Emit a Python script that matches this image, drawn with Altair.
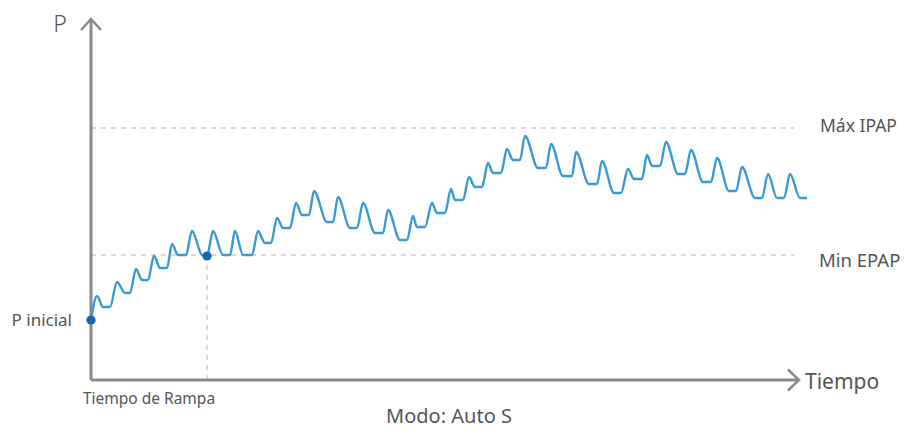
import altair as alt
import pandas as pd

# Pressure waveform key points (time units, pressure units)
wave_t = [0.0, 0.6, 1.2, 1.9, 2.6, 3.4, 3.9, 4.5, 5.1, 5.7, 6.3, 6.9, 7.6, 8.1, 8.7, 9.5,
          10.1, 11.1, 11.6, 12.2, 13.2, 13.9, 14.4, 15.2, 16.1, 16.7, 17.4, 18.0, 18.6, 19.2, 19.9,
          20.5, 21.1, 21.8, 22.3, 23.6, 24.2, 24.7, 25.9, 26.6, 27.2, 28.4, 29.2, 29.7, 30.9, 31.6,
          32.2, 32.6, 33.4, 34.1, 34.6, 35.4, 36.0, 36.4, 37.2, 37.8, 38.4, 39.1, 39.7, 40.2, 41.0,
          41.6, 42.2, 42.9, 43.4, 44.7, 45.5, 46.0, 47.2, 48.1, 48.5, 49.8, 50.6, 51.1, 52.3, 53.0,
          53.7, 54.3, 55.1, 55.6, 56.1, 56.9, 57.5, 58.7, 59.4, 60.0, 61.2, 62.0, 62.6, 63.8, 64.5,
          65.1, 66.4, 67.1, 67.7, 68.6, 69.3, 69.9, 70.9, 71.6]
wave_p = [6.0, 8.4, 7.3, 7.3, 9.8, 8.7, 8.7, 11.1, 10.0, 10.0, 12.4, 11.2, 11.2, 13.6, 12.5, 12.5,
          14.9, 12.5, 12.4, 14.9, 12.5, 12.5, 14.9, 12.5, 12.5, 14.9, 13.7, 13.7, 16.2, 15.2, 15.2,
          17.7, 16.5, 16.5, 18.9, 15.8, 15.8, 18.3, 15.2, 15.2, 17.7, 14.7, 14.7, 17.0, 14.0, 14.0,
          16.4, 15.3, 15.3, 17.7, 16.7, 16.7, 19.1, 18.0, 18.0, 20.3, 19.3, 19.3, 21.7, 20.7, 20.7,
          23.1, 22.0, 22.0, 24.4, 21.2, 21.2, 23.6, 20.4, 20.4, 22.8, 19.6, 19.6, 21.9, 18.7, 18.7,
          21.1, 20.1, 20.1, 22.5, 21.4, 21.4, 23.8, 20.6, 20.6, 23.0, 19.8, 19.8, 22.2, 18.9, 18.9,
          21.3, 18.2, 18.2, 20.6, 18.2, 18.2, 20.6, 18.2, 18.2]

# Reference levels
level_names = ["Máx IPAP", "Min EPAP"]
level_values = [25.2, 12.5]
level_end_t = 70.3

# Key points
p_inicial = 6.0
rampa_t = 11.6
rampa_p = 12.4

# Axis extents
t_axis_end = 70.8
p_axis_end = 36.1

T_DOMAIN = [-8.3, 80.9]
P_DOMAIN = [-4.9, 37.2]

xs = alt.Scale(domain=T_DOMAIN, nice=False, zero=False)
ys = alt.Scale(domain=P_DOMAIN, nice=False, zero=False)
X = lambda f: alt.X(f, type="quantitative", scale=xs, axis=None)
Y = lambda f: alt.Y(f, type="quantitative", scale=ys, axis=None)

FONT = "Noto Sans"
TXT = "#555555"
AXC = "#8a8a8a"

wave_df = pd.DataFrame({"t": wave_t, "p": wave_p})
levels_df = pd.DataFrame({"name": level_names, "p": level_values,
                          "t0": [0.0, 0.0], "t1": [level_end_t, level_end_t]})

# dashed level lines
levels = alt.Chart(levels_df).mark_rule(color="#b3b3b3", strokeWidth=1, strokeDash=[5, 5]).encode(
    x=X("t0"), x2="t1", y=Y("p"))

# vertical dashed rampa line
rampa_df = pd.DataFrame({"t": [rampa_t], "p0": [0.0], "p1": [rampa_p]})
rampa_line = alt.Chart(rampa_df).mark_rule(color="#b3b3b3", strokeWidth=1, strokeDash=[5, 5]).encode(
    x=X("t"), y=Y("p0"), y2="p1")

# axes lines
xaxis_df = pd.DataFrame({"t0": [0.0], "t1": [t_axis_end], "p": [0.0]})
yaxis_df = pd.DataFrame({"t": [0.0], "p0": [0.0], "p1": [p_axis_end]})
xaxis = alt.Chart(xaxis_df).mark_rule(color=AXC, strokeWidth=3).encode(x=X("t0"), x2="t1", y=Y("p"))
yaxis = alt.Chart(yaxis_df).mark_rule(color=AXC, strokeWidth=3).encode(x=X("t"), y=Y("p0"), y2="p1")

xarrow = alt.Chart(pd.DataFrame({"t": [t_axis_end], "p": [0.0]})).mark_point(
    shape="M-1.05,-1L0,0L-1.05,1", filled=False, stroke=AXC, strokeWidth=2.5, size=441, opacity=1
).encode(x=X("t"), y=Y("p"))
yarrow = alt.Chart(pd.DataFrame({"t": [0.0], "p": [p_axis_end]})).mark_point(
    shape="M-1,1.1L0,0L1,1.1", filled=False, stroke=AXC, strokeWidth=2.5, size=400, opacity=1
).encode(x=X("t"), y=Y("p"))

wave = alt.Chart(wave_df).mark_line(color="#3a9ad6", strokeWidth=2.4, interpolate="monotone").encode(
    x=X("t"), y=Y("p"))

dots_df = pd.DataFrame({"t": [0.0, rampa_t], "p": [p_inicial, rampa_p]})
dots = alt.Chart(dots_df).mark_point(filled=True, color="#1565ad", size=85, opacity=1).encode(
    x=X("t"), y=Y("p"))

# labels tied to data
lab_df = pd.DataFrame({"text": level_names, "t": [72.9, 72.8], "p": [24.8, 11.3], "size": [17.5, 18.5]})
level_labels = alt.Chart(lab_df).mark_text(align="left", baseline="alphabetic", font=FONT,
                                           color=TXT).encode(
    x=X("t"), y=Y("p"), text="text:N", size=alt.Size("size:Q", scale=None, legend=None))

pini = alt.Chart(pd.DataFrame({"t": [-1.9], "p": [5.4], "text": ["P inicial"]})).mark_text(
    align="right", baseline="alphabetic", font=FONT, fontSize=17, color=TXT).encode(
    x=X("t"), y=Y("p"), text="text:N")
rampa_lab = alt.Chart(pd.DataFrame({"t": [5.8], "p": [-2.4], "text": ["Tiempo de Rampa"]})).mark_text(
    align="center", baseline="alphabetic", font=FONT, fontSize=15.5, color=TXT).encode(
    x=X("t"), y=Y("p"), text="text:N")

p_lab = alt.Chart(pd.DataFrame({"text": ["P"]})).mark_text(
    align="center", baseline="alphabetic", font=FONT, fontSize=23, fontWeight=300, color=TXT).encode(
    x=alt.value(52), y=alt.value(24), text="text:N")
t_lab = alt.Chart(pd.DataFrame({"text": ["Tiempo"]})).mark_text(
    align="left", baseline="alphabetic", font=FONT, fontSize=21, color=TXT).encode(
    x=alt.value(797), y=alt.value(381), text="text:N")
modo_lab = alt.Chart(pd.DataFrame({"text": ["Modo: Auto S"]})).mark_text(
    align="center", baseline="alphabetic", font=FONT, fontSize=20, color=TXT).encode(
    x=alt.value(441), y=alt.value(415), text="text:N")

chart = alt.layer(levels, rampa_line, xaxis, yaxis, xarrow, yarrow, wave, dots,
                  level_labels, pini, rampa_lab, p_lab, t_lab, modo_lab).properties(
    width=892, height=421, autosize=alt.AutoSizeParams(type="none"), padding=0
).configure_view(stroke=None)

chart.save("out.html", embed_options={"renderer": "svg", "actions": False})
